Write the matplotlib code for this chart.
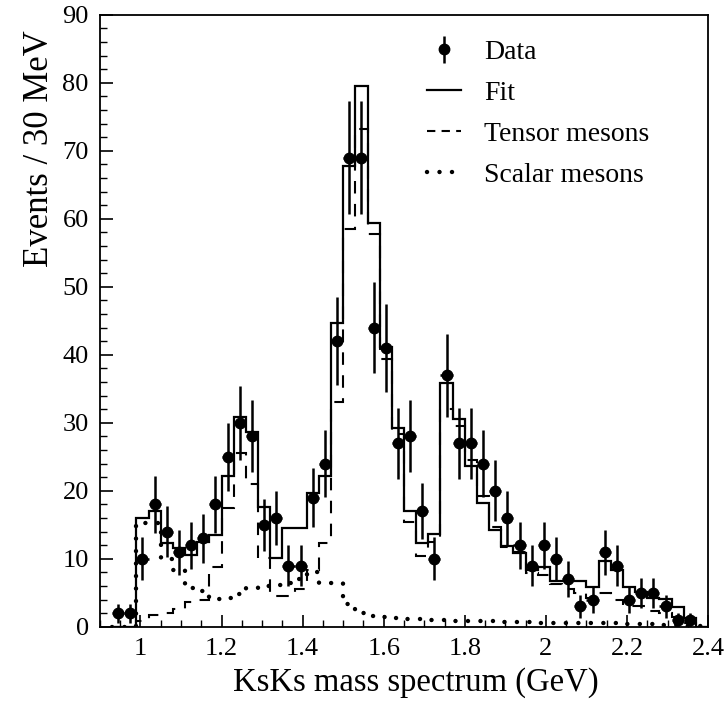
import matplotlib
matplotlib.use('Agg')
import matplotlib.pyplot as plt
from matplotlib.ticker import MultipleLocator, FormatStrFormatter
from matplotlib.lines import Line2D
import numpy as np

# 30 MeV bins, first bin starts at 0.93 GeV
bin_lo = 0.93
bin_w = 0.03

# events per bin (data points)
data = [2, 2, 10, 18, 14, 11, 12, 13, 18, 25, 30, 28, 15, 16, 9, 9,
        19, 24, 42, 69, 69, 44, 41, 27, 28, 17, 10, 37, 27, 27, 24, 20,
        16, 12, 9, 12, 10, 7, 3, 4, 11, 9, 4, 5, 5, 3, 1, 1]

# fit, tensor and scalar contributions (one value per bin, last bin empty of data)
fit = [0, 0, 16, 17, 12.3, 11.6, 10.5, 12.5, 13.5, 22.2, 30.8, 28.7, 17.6,
       10.2, 14.5, 14.5, 19.7, 22.2, 44.7, 67.7, 79.5, 59.4, 41.2, 29.3,
       17.0, 12.4, 13.6, 35.9, 30.5, 23.7, 18.2, 14.2, 11.9, 10.8, 8.3, 8.8,
       6.7, 6.7, 6.8, 5.9, 9.75, 8.3, 5.8, 5.2, 4.2, 4.1, 2.9, 1.3, 0]
tensor = [0, 0, 0.9, 1.7, 2.0, 2.7, 3.6, 4.0, 8.8, 17.5, 25.5, 21.0, 10.1,
          4.5, 4.6, 5.5, 8.3, 12.3, 33.0, 58.5, 73.2, 57.8, 39.4, 28.3, 15.4,
          10.4, 12.5, 32.0, 29.5, 24.5, 19.3, 14.7, 11.8, 11.0, 7.9, 7.6, 6.3,
          5.6, 5.0, 4.2, 5.0, 4.0, 3.0, 3.0, 2.4, 2.0, 1.5, 0.6, 0]
scalar = [0, 0, 15.3, 15.3, 10.0, 8.4, 5.7, 5.3, 4.1, 4.2, 4.9, 5.7, 6.0,
          6.1, 6.4, 7.1, 8.0, 6.5, 6.5, 3.4, 2.1, 1.6, 1.4, 1.3, 1.2, 1.1,
          1.0, 1.0, 0.9, 0.9, 0.8, 0.8, 0.7, 0.7, 0.7, 0.6, 0.6, 0.6, 0.5,
          0.5, 0.5, 0.5, 0.4, 0.4, 0.4, 0.3, 0.3, 0.2, 0.1]

plt.rcParams['font.family'] = ['Liberation Serif', 'DejaVu Serif']

edges = bin_lo + bin_w * np.arange(len(fit) + 1)
data = np.array(data, dtype=float)
centers = bin_lo + bin_w * (np.arange(len(data)) + 0.5)

fig = plt.figure(figsize=(7.24, 7.02), dpi=100)
ax = fig.add_axes([0.138, 0.107, 0.84, 0.872])

dash = (0, (6, 5))
dots = (0, (0.01, 2.8))
lw_fit = 1.6
lw_dot = 3.2

ax.stairs(fit, edges, color='black', linewidth=lw_fit)
ax.stairs(tensor, edges, color='black', linewidth=1.5, linestyle=dash)
sc = ax.stairs(scalar, edges, color='black', linewidth=lw_dot, linestyle=dots)
sc.set_capstyle('round')
ax.errorbar(centers, data, yerr=np.sqrt(data), xerr=bin_w / 2, fmt='o',
            color='black', markersize=7.5, elinewidth=1.8, capsize=0)

ax.set_xlim(0.9, 2.4)
ax.set_ylim(0, 90)
ax.xaxis.set_major_locator(MultipleLocator(0.2))
ax.xaxis.set_minor_locator(MultipleLocator(0.05))
ax.xaxis.set_major_formatter(FormatStrFormatter('%g'))
ax.yaxis.set_major_locator(MultipleLocator(10))
ax.yaxis.set_minor_locator(MultipleLocator(2))
ax.tick_params(which='both', direction='in', labelsize=19, pad=8)
ax.tick_params(which='major', length=9, width=1.2)
ax.tick_params(which='minor', length=5, width=1.0)
for s in ax.spines.values():
    s.set_linewidth(1.3)

ax.set_xlabel('KsKs mass spectrum (GeV)', fontsize=23.5)
ax.xaxis.set_label_coords(0.52, -0.066)
ax.set_ylabel('Events / 30 MeV', fontsize=25, loc='top')
ax.yaxis.set_label_coords(-0.072, 0.975)

# legend proxies
h_data = ax.errorbar([np.nan], [np.nan], yerr=[1.0], fmt='o', color='black',
                     markersize=7.5, elinewidth=1.8, capsize=0)
h_fit = Line2D([], [], color='black', linewidth=lw_fit)
h_ten = Line2D([], [], color='black', linewidth=1.5, linestyle=(0, (4, 3)))
h_sca = Line2D([], [], color='black', linewidth=lw_dot, linestyle=dots,
               dash_capstyle='round')
ax.legend([h_data, h_fit, h_ten, h_sca],
          ['Data', 'Fit', 'Tensor mesons', 'Scalar mesons'],
          loc='upper left', bbox_to_anchor=(0.497, 1.0), frameon=False,
          fontsize=20, handlelength=1.2, handletextpad=0.85, labelspacing=0.56)

plt.savefig('out.png', dpi=100)
